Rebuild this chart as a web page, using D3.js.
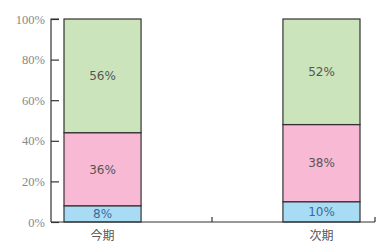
<!DOCTYPE html>
<html>
<head>
<meta charset="utf-8">
<script src="https://cdn.jsdelivr.net/npm/d3@7"></script>
<style>
  html, body { margin: 0; padding: 0; background: #fff; }
  svg { display: block; }
</style>
</head>
<body>
<div id="chart"></div>
<script>
// Data
const categories = ["今期", "次期"];
const seriesKeys = ["bottom", "middle", "top"];
const bottomValues = [8, 10];
const middleValues = [36, 38];
const topValues = [56, 52];
const yTicks = [0, 20, 40, 60, 80, 100];

const colors = { bottom: "#a8dcf4", middle: "#f7b9d3", top: "#cbe4bb" };

const width = 387, height = 251;
const margin = { top: 19, right: 12, bottom: 29, left: 51 };

const svg = d3.select("#chart").append("svg")
    .attr("width", width)
    .attr("height", height);

const rows = categories.map((c, i) => ({
    cat: c,
    bottom: bottomValues[i],
    middle: middleValues[i],
    top: topValues[i]
}));

const stacked = d3.stack().keys(seriesKeys)(rows);

// bars sit between x=64 and x=360
const x = d3.scaleBand()
    .domain(categories)
    .range([64, 360])
    .paddingInner(0.648)
    .paddingOuter(0);

const y = d3.scaleLinear()
    .domain([0, 100])
    .range([height - margin.bottom, margin.top]);

const font = "'DejaVu Sans', 'Noto Sans', sans-serif";

// Bars
svg.append("g").selectAll("g")
    .data(stacked)
    .enter().append("g")
    .attr("fill", d => colors[d.key])
    .selectAll("rect")
    .data(d => d.map(v => Object.assign({ key: d.key }, v)))
    .enter().append("rect")
    .attr("x", d => x(d.data.cat))
    .attr("y", d => y(d[1]))
    .attr("width", x.bandwidth())
    .attr("height", d => y(d[0]) - y(d[1]))
    .attr("stroke", "#333")
    .attr("stroke-width", 1.2);

// Value labels
svg.append("g").selectAll("g")
    .data(stacked)
    .enter().append("g")
    .selectAll("text")
    .data(d => d.map(v => Object.assign({ key: d.key }, v)))
    .enter().append("text")
    .attr("x", d => x(d.data.cat) + x.bandwidth() / 2)
    .attr("y", d => (y(d[0]) + y(d[1])) / 2)
    .attr("dy", "0.36em")
    .attr("text-anchor", "middle")
    .attr("font-family", font)
    .attr("font-size", "12px")
    .attr("fill", d => d.key === "bottom" ? "#3a6a9a" : "#555")
    .text(d => (d[1] - d[0]) + "%");

// Y axis (ticks point inward)
const yAxis = d3.axisRight(y)
    .tickValues(yTicks)
    .tickSize(8)
    .tickFormat(d => d + "%");

const yg = svg.append("g")
    .attr("transform", `translate(${margin.left},0)`)
    .call(yAxis);
yg.select(".domain").attr("stroke", "#333").attr("stroke-width", 1.2)
    .attr("d", `M8,${y(100)}H0V${y(0)}`);
yg.selectAll(".tick line").attr("stroke", "#333").attr("stroke-width", 1.2);
yg.selectAll(".tick text")
    .attr("x", -6)
    .attr("text-anchor", "end")
    .attr("font-family", "'Liberation Serif', 'DejaVu Serif', serif")
    .attr("font-size", "12.5px")
    .attr("fill", "#888");

// X axis baseline with upward ticks
const xg = svg.append("g");
const x0 = margin.left, x1 = width - margin.right;
xg.append("line")
    .attr("x1", x0).attr("x2", x1)
    .attr("y1", y(0)).attr("y2", y(0))
    .attr("stroke", "#333").attr("stroke-width", 1.2);
const midTick = (x(categories[0]) + x.bandwidth() + x(categories[1])) / 2;
[midTick, x1].forEach(t => {
    xg.append("line")
        .attr("x1", t).attr("x2", t)
        .attr("y1", y(0)).attr("y2", y(0) - 5)
        .attr("stroke", "#333").attr("stroke-width", 1.2);
});

// Category labels
svg.append("g").selectAll("text")
    .data(categories)
    .enter().append("text")
    .attr("x", d => x(d) + x.bandwidth() / 2)
    .attr("y", y(0) + 18)
    .attr("text-anchor", "middle")
    .attr("font-family", "'Noto Sans CJK JP', sans-serif")
    .attr("font-size", "12px")
    .attr("fill", "#555")
    .text(d => d);
</script>
</body>
</html>
